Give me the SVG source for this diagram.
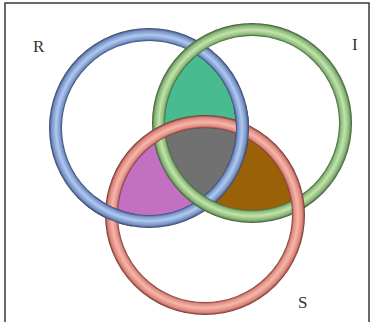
<svg xmlns="http://www.w3.org/2000/svg" width="371" height="322" viewBox="0 0 371 322">
<style>
.ring{fill:none;stroke-width:13}
.lbl{font-family:"Liberation Serif","Times New Roman",serif;font-size:17px;fill:#333}
.frame{fill:none;stroke:#3a3a3a;stroke-width:1.5}
</style>
<defs>
<radialGradient id="gB" gradientUnits="userSpaceOnUse" cx="149" cy="128" r="100">
<stop offset="0.868" stop-color="#34436a"/><stop offset="0.89" stop-color="#7a95cc"/><stop offset="0.93" stop-color="#b0caee"/><stop offset="0.975" stop-color="#7590c6"/><stop offset="1" stop-color="#33405e"/>
</radialGradient>
<radialGradient id="gG" gradientUnits="userSpaceOnUse" cx="252" cy="123" r="100">
<stop offset="0.868" stop-color="#3d5c34"/><stop offset="0.89" stop-color="#8abb7a"/><stop offset="0.93" stop-color="#c3e4ac"/><stop offset="0.975" stop-color="#84b374"/><stop offset="1" stop-color="#3b5532"/>
</radialGradient>
<radialGradient id="gS" gradientUnits="userSpaceOnUse" cx="205" cy="215" r="100">
<stop offset="0.868" stop-color="#6e3330"/><stop offset="0.89" stop-color="#e08a80"/><stop offset="0.93" stop-color="#f5b7aa"/><stop offset="0.975" stop-color="#dc8479"/><stop offset="1" stop-color="#6a302c"/>
</radialGradient>
<clipPath id="cB"><circle cx="149" cy="128" r="93.5"/></clipPath>
<clipPath id="cG"><circle cx="252" cy="123" r="93.5"/></clipPath>
<clipPath id="cS"><circle cx="205" cy="215" r="93.5"/></clipPath>
</defs>
<rect width="371" height="322" fill="#ffffff"/>
<path class="frame" d="M5 322 V3 H369 V322"/>
<g id="regions">
<g clip-path="url(#cB)"><circle cx="252" cy="123" r="93.5" fill="#48bb91"/></g>
<g clip-path="url(#cB)"><circle cx="205" cy="215" r="93.5" fill="#c170c2"/></g>
<g clip-path="url(#cG)"><circle cx="205" cy="215" r="93.5" fill="#9a6109"/></g>
<g clip-path="url(#cB)"><g clip-path="url(#cG)"><circle cx="205" cy="215" r="93.5" fill="#717171"/></g></g>
</g>
<g id="R">
<circle class="ring" cx="149" cy="128" r="93.5" stroke="url(#gB)"/>
<text class="lbl" x="33" y="52">R</text>
</g>
<g id="I">
<circle class="ring" cx="252" cy="123" r="93.5" stroke="url(#gG)"/>
<text class="lbl" x="352" y="50">I</text>
</g>
<g id="S">
<circle class="ring" cx="205" cy="215" r="93.5" stroke="url(#gS)"/>
<text class="lbl" x="298" y="308">S</text>
</g>
<g id="R-over">
<path class="ring" stroke="url(#gB)" d="M132.8 220.1 A93.5 93.5 0 0 1 91.4 201.7"/>
<path class="ring" stroke="url(#gB)" d="M239.7 105.4 A93.5 93.5 0 0 1 238.9 153.8"/>
</g>
</svg>
